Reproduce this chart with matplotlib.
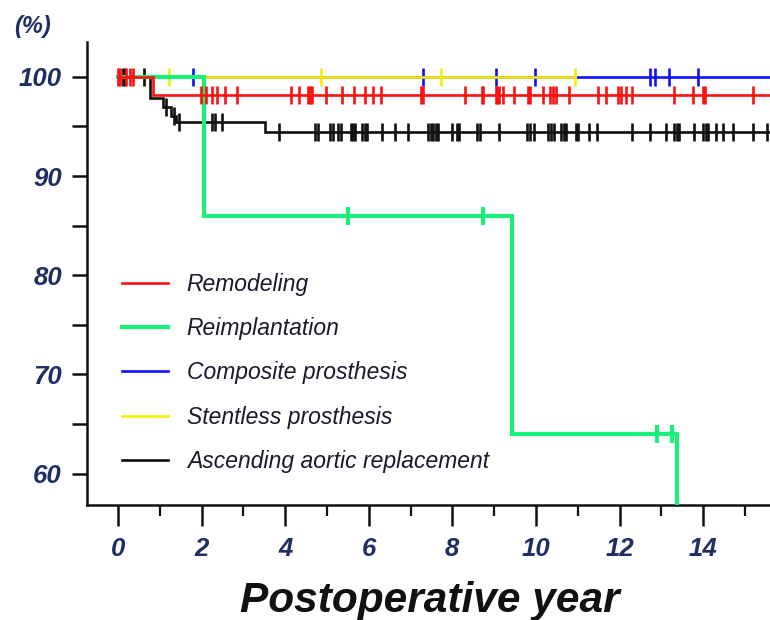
import numpy as np
import matplotlib
matplotlib.use("Agg")
import matplotlib.pyplot as plt
from matplotlib.ticker import MultipleLocator

plt.rcParams["font.family"] = ["Liberation Sans", "DejaVu Sans"]

# Kaplan-Meier curves: event times (drops) and survival levels (%)
labels = ["Remodeling", "Reimplantation", "Composite prosthesis",
          "Stentless prosthesis", "Ascending aortic replacement"]

remod_t = [0.0, 0.84, 15.8]
remod_s = [100, 98.2, 98.2]
remod_cens = [0.0, 0.05, 0.19, 0.29, 0.37, 1.99, 2.11, 2.24, 2.38, 2.56, 2.84,
              4.15, 4.34, 4.54, 4.59, 4.65, 4.98, 5.35, 5.65, 5.91, 6.11, 6.29,
              7.25, 7.29, 8.30, 8.70, 8.74, 9.04, 9.08, 9.12, 9.22, 9.47, 9.80,
              9.86, 10.17, 10.33, 10.41, 10.49, 10.79, 11.49, 11.67, 11.97, 12.03,
              12.15, 12.29, 13.30, 13.75, 13.99, 14.04, 15.20]

reimp_t = [0.0, 2.07, 9.42, 13.38]
reimp_s = [100, 86.0, 64.0, 0.0]
reimp_cens = [5.51, 8.74, 12.90, 13.26]

comp_t = [0.0, 15.8]
comp_s = [100, 100]
comp_cens = [1.79, 7.29, 9.04, 9.98, 12.73, 12.85, 13.18, 13.87]

stent_t = [0.0, 10.93]
stent_s = [100, 100]
stent_cens = [0.62, 1.22, 4.86, 7.73, 10.93]

asc_t = [0.0, 0.77, 1.08, 1.26, 1.40, 3.53, 15.8]
asc_s = [100, 97.85, 96.95, 96.1, 95.4, 94.4, 94.4]
asc_cens = [0.13, 0.16, 0.62, 1.15, 1.34, 1.46, 2.25, 2.32, 2.48, 3.85, 4.71,
            4.79, 5.07, 5.15, 5.27, 5.33, 5.57, 5.62, 5.67, 5.85, 5.90, 5.95,
            6.31, 6.63, 6.95, 7.42, 7.50, 7.54, 7.61, 7.66, 8.00, 8.12, 8.17,
            8.58, 8.66, 9.11, 9.78, 9.86, 9.95, 10.29, 10.35, 10.43, 10.61,
            10.68, 10.73, 10.95, 11.01, 11.28, 11.46, 12.30, 12.74, 13.10,
            13.31, 13.37, 13.43, 13.79, 14.00, 14.07, 14.12, 14.30, 14.48,
            14.72, 15.20, 15.54]

x_major = [0, 2, 4, 6, 8, 10, 12, 14]
y_major = [60, 70, 80, 90, 100]

NAVY = "#1f2f62"

curves = [
    # t, s, censored, colour, lw, z
    (remod_t, remod_s, remod_cens, "#ff1010", 1.9, 6),
    (reimp_t, reimp_s, reimp_cens, "#19f07a", 3.0, 5),
    (comp_t, comp_s, comp_cens, "#1010ff", 1.9, 2),
    (stent_t, stent_s, stent_cens, "#f4f000", 1.9, 3),
    (asc_t, asc_s, asc_cens, "#111111", 1.9, 4),
]


def km_at(t, s, x):
    idx = np.searchsorted(t, x, side="right") - 1
    return np.asarray(s)[idx]


fig = plt.figure(figsize=(7.7, 6.2), dpi=100)
ax = fig.add_axes([0.113, 0.185, 0.887, 0.747])

handles = []
for (t, s, cens, color, lw, z), label in zip(curves, labels):
    line, = ax.step(t, s, where="post", color=color, lw=lw, zorder=z,
                    solid_joinstyle="miter", label=label)
    ax.plot(cens, km_at(t, s, cens), ls="none", marker="|", ms=13,
            mew=lw if lw > 2 else 1.9, color=color, zorder=z)
    handles.append(line)

ax.set_xlim(-0.74, 15.6)
ax.set_ylim(56.8, 103.5)

ax.set_xticks(x_major)
ax.xaxis.set_minor_locator(MultipleLocator(1))
ax.set_yticks(y_major)
ax.yaxis.set_minor_locator(MultipleLocator(5))

for sp in ["top", "right"]:
    ax.spines[sp].set_visible(False)
for sp in ["left", "bottom"]:
    ax.spines[sp].set_linewidth(1.8)
    ax.spines[sp].set_color("#111111")

ax.tick_params(axis="y", which="both", direction="out", length=11, width=1.8,
               pad=7, color="#111111")
ax.tick_params(axis="x", which="major", direction="out", length=15, width=1.8,
               pad=8, color="#111111")
ax.tick_params(axis="x", which="minor", direction="out", length=8, width=1.6,
               color="#111111")
for lab in ax.get_xticklabels() + ax.get_yticklabels():
    lab.set_fontsize(18.5)
    lab.set_fontstyle("italic")
    lab.set_fontweight("bold")
    lab.set_color(NAVY)

fig.text(0.019, 0.957, "(%)", fontsize=17, fontstyle="italic",
         fontweight="bold", color=NAVY, ha="left", va="center")
fig.text(0.558, 0.030, "Postoperative year", fontsize=30.5, fontstyle="italic",
         fontweight="bold", color="#111111", ha="center", va="center")

leg = ax.legend(handles=handles, loc="upper left", bbox_to_anchor=(0.051, 0.502),
                frameon=False, handlelength=2.0, handletextpad=0.83,
                labelspacing=0.93, borderpad=0, borderaxespad=0,
                prop={"style": "italic", "size": 16.5})
for txt in leg.get_texts():
    txt.set_color("#1a1a2a")

fig.savefig("out.png", dpi=100)
